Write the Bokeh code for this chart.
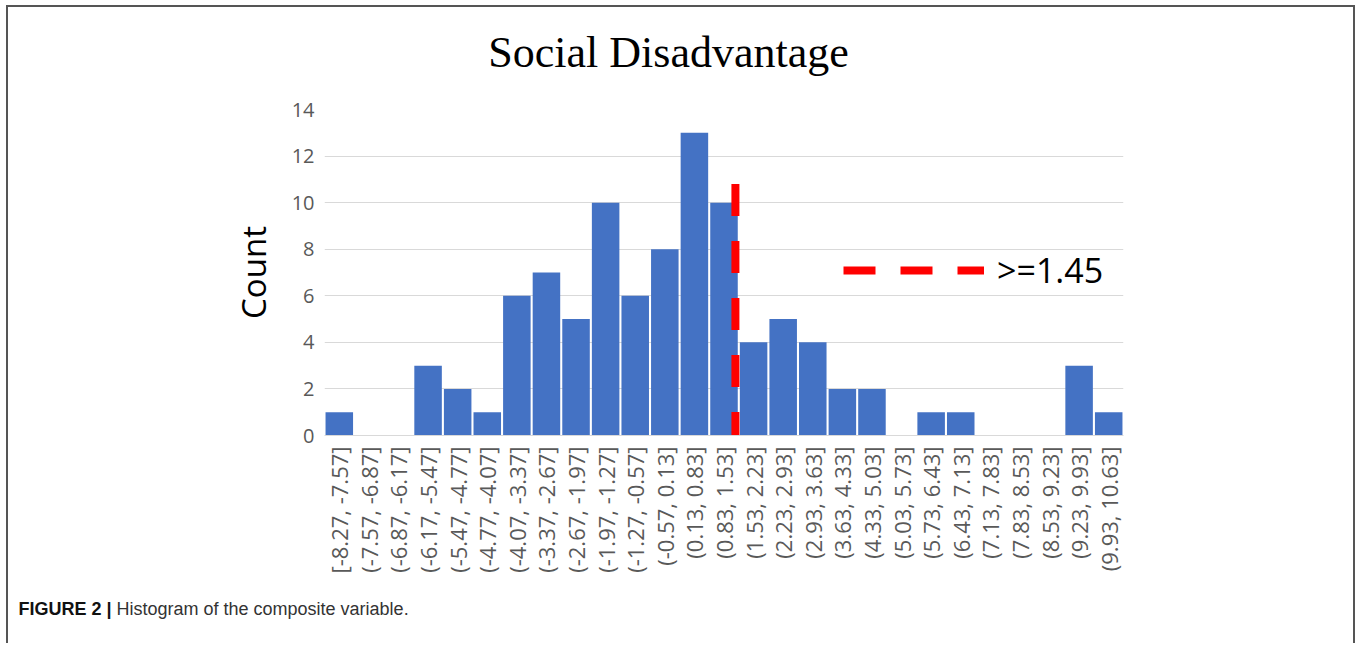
import math
from bokeh.plotting import figure
from bokeh.models import FactorRange, Range1d, Legend, LegendItem, FixedTicker, Label
from bokeh.layouts import column
from bokeh.embed import file_html
from bokeh.resources import INLINE

# ---------------- data ----------------
bins = ["[-8.27, -7.57]", "(-7.57, -6.87]", "(-6.87, -6.17]", "(-6.17, -5.47]",
        "(-5.47, -4.77]", "(-4.77, -4.07]", "(-4.07, -3.37]", "(-3.37, -2.67]",
        "(-2.67, -1.97]", "(-1.97, -1.27]", "(-1.27, -0.57]", "(-0.57, 0.13]",
        "(0.13, 0.83]", "(0.83, 1.53]", "(1.53, 2.23]", "(2.23, 2.93]",
        "(2.93, 3.63]", "(3.63, 4.33]", "(4.33, 5.03]", "(5.03, 5.73]",
        "(5.73, 6.43]", "(6.43, 7.13]", "(7.13, 7.83]", "(7.83, 8.53]",
        "(8.53, 9.23]", "(9.23, 9.93]", "(9.93, 10.63]"]
counts = [1, 0, 0, 3, 2, 1, 6, 7, 5, 10, 6, 8, 13, 10, 4, 5, 4, 2, 2, 0, 1, 1, 0, 0, 0, 3, 1]
y_ticks = [0, 2, 4, 6, 8, 10, 12, 14]
threshold = 1.45
threshold_top = 10.8
threshold_label = ">=1.45"
title_text = "Social Disadvantage"
y_label = "Count"
caption_bold = "FIGURE 2 |"
caption_text = "Histogram of the composite variable."

# position of the threshold on the categorical axis
edges = [tuple(float(v) for v in b.strip("[]()").split(",")) for b in bins]
thr_x = None
for i, (lo, hi) in enumerate(edges):
    if lo < threshold <= hi:
        thr_x = i + (threshold - lo) / (hi - lo)
        break

W = 1345


def strip_figure(height):
    f = figure(width=W, height=height, x_range=Range1d(0, W), y_range=Range1d(0, height),
               output_backend="svg", toolbar_location=None, min_border=0)
    f.frame_align = False
    f.axis.visible = False
    f.grid.visible = False
    f.outline_line_color = None
    return f


# ---------------- title strip ----------------
tf = strip_figure(84)
tf.add_layout(Label(x=660, y=39, x_units="screen", y_units="screen", text=title_text,
                    text_font="Liberation Serif", text_font_size="44px",
                    text_align="center", text_baseline="alphabetic", text_color="black"))

# ---------------- main chart ----------------
p = figure(width=W, height=501, x_range=FactorRange(factors=bins, range_padding=0),
           y_range=Range1d(0, 14), output_backend="svg", toolbar_location=None,
           min_border_left=316, min_border_right=230, min_border_top=18, min_border_bottom=157)
p.frame_align = False
p.outline_line_color = None
p.background_fill_color = "white"

p.vbar(x=bins, top=counts, width=0.93, color="#4472C4", line_color=None)

thr = p.segment(x0=[thr_x], x1=[thr_x], y0=[threshold_top], y1=[0],
                line_color="#FF0000", line_width=8, line_dash="32 25")

legend = Legend(items=[LegendItem(label=threshold_label, renderers=[thr])],
                location=(519, 142), padding=0, margin=0, spacing=0,
                glyph_width=141, glyph_height=20, label_standoff=13,
                label_text_font="Open Sans", label_text_font_size="34px",
                label_text_color="black", border_line_color=None,
                background_fill_alpha=0)
p.add_layout(legend, "center")

p.xgrid.grid_line_color = None
p.ygrid.grid_line_color = "#d9d9d9"
p.ygrid.grid_line_width = 1
p.yaxis.ticker = FixedTicker(ticks=y_ticks)
p.yaxis.axis_line_color = None
p.yaxis.major_tick_line_color = None
p.yaxis.minor_tick_line_color = None
p.yaxis.major_label_text_font = "Open Sans"
p.yaxis.major_label_text_font_size = "20px"
p.yaxis.major_label_text_color = "#595959"
p.yaxis.major_label_standoff = 4
p.yaxis.axis_label = y_label
p.yaxis.axis_label_text_font = "Open Sans"
p.yaxis.axis_label_text_font_size = "33px"
p.yaxis.axis_label_text_font_style = "normal"
p.yaxis.axis_label_text_color = "black"
p.yaxis.axis_label_standoff = 13

p.xaxis.axis_line_color = "#d9d9d9"
p.xaxis.major_tick_line_color = None
p.xaxis.minor_tick_line_color = None
p.xaxis.major_label_orientation = math.pi / 2
p.xaxis.major_label_text_font = "Open Sans"
p.xaxis.major_label_text_font_size = "22px"
p.xaxis.major_label_text_color = "#595959"
p.xaxis.major_label_standoff = 5

# ---------------- caption strip ----------------
cp = strip_figure(51)
cp.add_layout(Label(x=10, y=35, x_units="screen", y_units="screen", text=caption_bold,
                    text_font="Liberation Sans", text_font_size="18px", text_font_style="bold",
                    text_baseline="alphabetic", text_color="#111111"))
cp.add_layout(Label(x=108, y=35, x_units="screen", y_units="screen", text=caption_text,
                    text_font="Liberation Sans", text_font_size="18px",
                    text_baseline="alphabetic", text_color="#333333"))

layout = column(tf, p, cp, spacing=0,
                styles={"margin-left": "6px", "margin-top": "5px",
                        "border-top": "2px solid #555555", "border-left": "2px solid #555555",
                        "border-right": "2px solid #555555"})

open("out.html", "w").write(file_html(layout, INLINE))
